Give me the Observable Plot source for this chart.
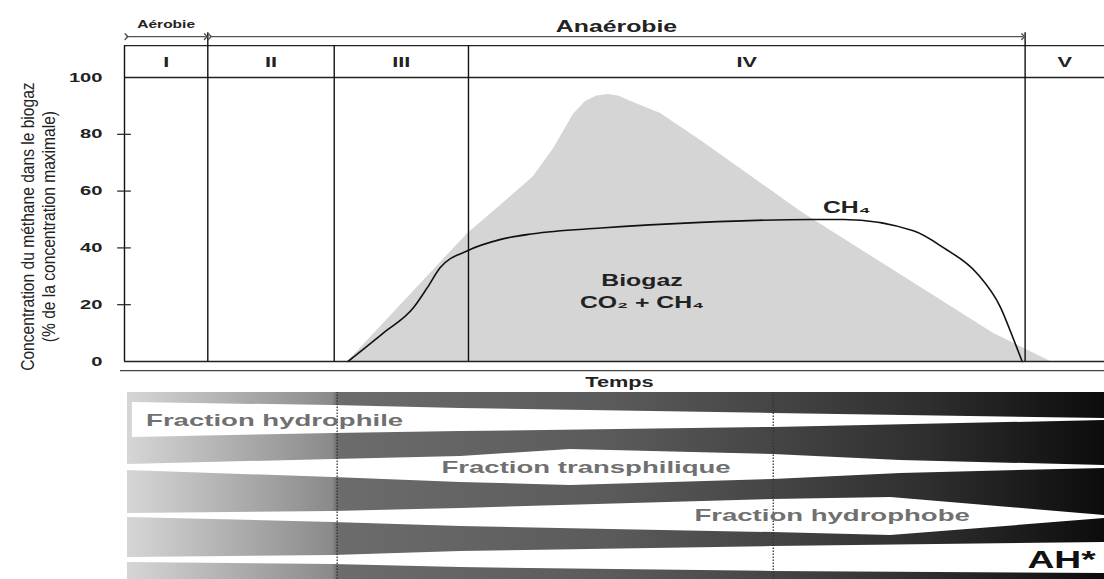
<!DOCTYPE html>
<html><head><meta charset="utf-8">
<script src="https://cdn.jsdelivr.net/npm/d3@7"></script>
<script src="https://cdn.jsdelivr.net/npm/@observablehq/plot@0.6"></script>
<style>
html,body{margin:0;padding:0;background:#fff;}
#chart{width:1104px;line-height:0;}
#chart svg{display:block;}
</style></head><body><div id="chart"></div>
<script>
// ---------- data ----------
const phaseNames = ["I", "II", "III", "IV", "V"];
const phaseBounds = [0, 8.5, 21.4, 35.1, 91.9, 100];
const yTicks = [0, 20, 40, 60, 80, 100];
const regimeNames = ["Aérobie", "Anaérobie"];
const regimeStart = [0, 8.5];
const regimeEnd = [8.5, 91.9];

const biogasT = [22.8, 35.0, 38.4, 41.7, 43.8, 45.8, 47.0, 48.2, 49.4, 50.5, 51.5, 54.7, 58.8, 69.3, 88.7, 94.5];
const biogasV = [0, 45, 55, 65, 75, 87, 91.5, 93.5, 94, 93.4, 91.8, 87.3, 77.8, 52.1, 9.9, 0];

const ch4T = [22.8, 26.4, 29.5, 30.9, 32.2, 35.0, 38.4, 41.7, 48.6, 58.8, 70.0, 73.4, 80.5, 83.6, 87.0, 89.4, 90.7, 91.6];
const ch4V = [0, 10, 19, 26, 33, 39, 43, 45, 47, 49, 50, 50, 46, 40, 31, 19, 8, 0];

const fractionNames = ["Fraction hydrophile", "Fraction transphilique", "Fraction hydrophobe", "AH*"];
const fracT = [
  [0.8, 21.3, 34.3, 66.2, 100],
  [0.3, 21.3, 34.3, 45.5, 66.2, 79.2, 100],
  [0.3, 21.3, 34.3, 66.2, 78.2, 100],
  [0.3, 21.3, 34.3, 66.2, 100]
];
const fracTop = [
  [94.7, 93.0, 91.4, 88.8, 86.1],
  [61.5, 64.2, 65.8, 69.5, 66.8, 63.6, 61.0],
  [35.3, 36.4, 38.0, 42.8, 43.9, 34.2],
  [11.8, 12.8, 15.0, 17.6, 19.8]
];
const fracBottom = [
  [75.9, 78.1, 79.1, 81.3, 85.0],
  [58.3, 54.5, 51.9, 50.3, 53.5, 56.7, 59.4],
  [33.2, 30.5, 28.3, 25.1, 23.5, 32.6],
  [9.1, 8.0, 6.4, 4.3, 3.2]
];
const markerTimes = [21.7, 66.2];

const yLabel1 = "Concentration du méthane dans le biogaz";
const yLabel2 = "(% de la concentration maximale)";

// ---------- derived tables ----------
const bio = biogasT.map((t, i) => ({t, v: biogasV[i]}));
const ch4 = ch4T.map((t, i) => ({t, v: ch4V[i]}));
const phases = phaseNames.map((name, i) => ({name, x1: phaseBounds[i], x2: phaseBounds[i + 1]}));
const regimes = regimeNames.map((name, i) => ({name, x1: regimeStart[i], x2: regimeEnd[i]}));
const shapes = fractionNames.flatMap((name, i) =>
  fracT[i].map((t, j) => ({name, t, lo: fracBottom[i][j], hi: fracTop[i][j]})));

const FONT = "'Liberation Sans', Arial, sans-serif";
const HEAD_TOP = 111.2, ARROW_Y = 114.4, TICK_TOP = 115.8;

const topChart = Plot.plot({
  width: 1104, height: 388,
  marginLeft: 124, marginRight: 0, marginTop: 77, marginBottom: 27,
  x: {domain: [0, 100], axis: null},
  y: {domain: [0, 100]},
  style: {fontFamily: FONT, background: "white", overflow: "visible", color: "#222"},
  marks: [
    Plot.areaY(bio, {x: "t", y: "v", fill: "#d5d5d5", curve: "linear"}),
    Plot.line(ch4, {x: "t", y: "v", stroke: "#111", strokeWidth: 1.6, curve: "monotone-x"}),
    Plot.ruleY([0], {x1: 0, x2: 100, stroke: "#222", strokeWidth: 1.3}),
    Plot.ruleY([-3.2], {x1: -0.4, x2: 100, stroke: "#444", strokeWidth: 1.3}),
    Plot.ruleY([100, HEAD_TOP], {x1: 0, x2: 100, stroke: "#222", strokeWidth: 1.3}),
    Plot.ruleX(phaseBounds.slice(0, 5), {y1: 0, y2: d => (d === regimeEnd[0] || d === regimeEnd[1]) ? TICK_TOP : HEAD_TOP, stroke: "#111", strokeWidth: 1.4}),
    Plot.ruleY(yTicks.filter(d => d > 0 && d < 100), {x1: -0.7, x2: 0.7, stroke: "#222", strokeWidth: 1.2}),
    Plot.axisY({ticks: yTicks, tickSize: 0, tickPadding: 22, fontSize: 13, fontWeight: "bold", label: null}),
    Plot.text(phases, {x: d => (d.x1 + d.x2) / 2, y: 105.4, text: "name", fontSize: 14, fontWeight: "bold"}),
    Plot.link(regimes, {x1: d => d.x1 + 0.2, x2: d => d.x2 - 0.2, y1: ARROW_Y, y2: ARROW_Y,
      stroke: "#555", strokeWidth: 1.4, markerStart: "arrow", markerEnd: "arrow"}),
    Plot.text(regimes.slice(0, 1), {x: d => (d.x1 + d.x2) / 2, y: 118.5, text: "name", fontSize: 10, fontWeight: "bold"}),
    Plot.text(regimes.slice(1), {x: d => (d.x1 + d.x2) / 2, y: 117.8, text: "name", fontSize: 16, fontWeight: "bold"}),
    Plot.text(["Biogaz"], {x: 52.8, y: 28.5, text: d => d, fontSize: 16, fontWeight: "bold"}),
    Plot.text(["CO₂ + CH₄"], {x: 52.8, y: 20.6, text: d => d, fontSize: 16, fontWeight: "bold"}),
    Plot.text(["CH₄"], {x: 73.7, y: 54.2, text: d => d, fontSize: 16, fontWeight: "bold"}),
    Plot.text(["Temps"], {x: 50.5, y: -7.4, text: d => d, fontSize: 14, fontWeight: "bold"}),
    Plot.text([yLabel1], {x: -9.9, y: 47.5, text: d => d, rotate: -90, fontSize: 19, fontWeight: "normal", fill: "#222"}),
    Plot.text([yLabel2], {x: -7.76, y: 47.5, text: d => d, rotate: -90, fontSize: 19, fontWeight: "normal", fill: "#222"})
  ]
});

const bottomChart = Plot.plot({
  width: 1104, height: 191,
  marginLeft: 124, marginRight: 0, marginTop: 4, marginBottom: 0,
  x: {domain: [0, 100], axis: null},
  y: {domain: [0, 100], axis: null},
  style: {fontFamily: FONT, background: "white", overflow: "visible"},
  marks: [
    Plot.rect([0], {x1: 0.3, x2: 100, y1: 0, y2: 100, fill: "url(#bandGrad)"}),
    Plot.areaY(shapes, {x: "t", y1: "lo", y2: "hi", z: "name", fill: "white", curve: "linear"}),
    Plot.ruleX(markerTimes, {y1: 0, y2: 100, stroke: "#333", strokeWidth: 1.3, strokeDasharray: "1.5,1.5"}),
    Plot.text([fractionNames[0]], {x: 2.2, y: 85.0, text: d => d, textAnchor: "start", fontSize: 17, fontWeight: "bold", fill: "#707070"}),
    Plot.text([fractionNames[1]], {x: 47.1, y: 59.9, text: d => d, fontSize: 17, fontWeight: "bold", fill: "#707070"}),
    Plot.text([fractionNames[2]], {x: 72.2, y: 34.2, text: d => d, fontSize: 17, fontWeight: "bold", fill: "#707070"}),
    Plot.text([fractionNames[3]], {x: 99.1, y: 10.2, text: d => d, textAnchor: "end", fontSize: 23, fontWeight: "bold", fill: "#111"})
  ]
});

// gradient definition for the band background
const defs = d3.select(bottomChart).insert("defs", ":first-child");
const grad = defs.append("linearGradient").attr("id", "bandGrad").attr("x1", 0).attr("x2", 1).attr("y1", 0).attr("y2", 0);
[[0, "#d6d6d6"], [0.21, "#8a8a8a"], [0.215, "#6c6c6c"], [0.5, "#5a5a5a"], [0.66, "#454545"], [0.82, "#2e2e2e"], [1, "#0c0c0c"]]
  .forEach(([o, c]) => grad.append("stop").attr("offset", o).attr("stop-color", c));

const chart = document.getElementById("chart");
chart.append(topChart, bottomChart);

// horizontal stretch of the lettering (the source image is widened)
function stretch(svg, factor) {
  svg.querySelectorAll("text").forEach(t => {
    const rotated = t.closest('[transform*="rotate"]');
    const w = t.getComputedTextLength();
    if (!w) return;
    t.setAttribute("textLength", (w * (rotated ? 0.82 : factor)).toFixed(1));
    t.setAttribute("lengthAdjust", "spacingAndGlyphs");
  });
}
stretch(topChart, 1.55);
stretch(bottomChart, 1.62);
</script>
</body></html>
